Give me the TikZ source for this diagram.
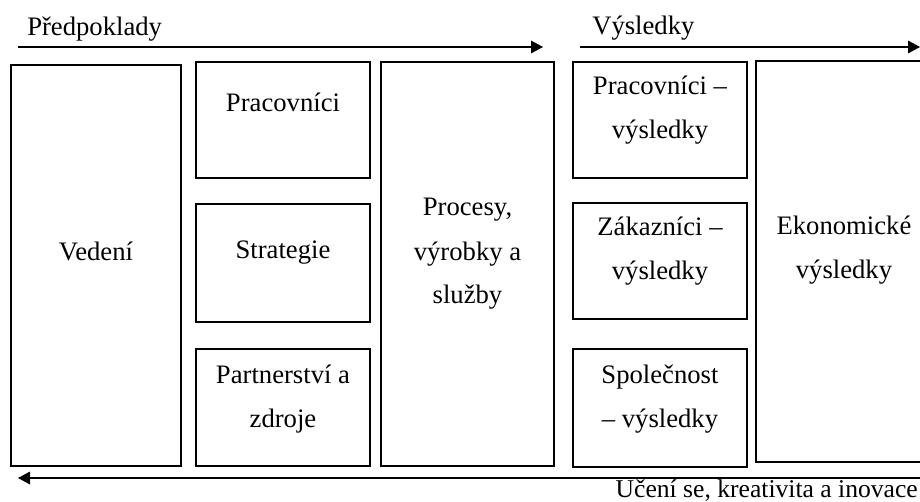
\documentclass[tikz,border=0pt]{standalone}
\usepackage{fontspec}
\setmainfont{Liberation Serif}
\usetikzlibrary{arrows.meta,fit}
\newcommand\mylines[1]{\vtop{\baselineskip=33pt\halign{\hfil##\hfil\cr#1\crcr}}}
\tikzset{
  box/.style={draw=black, line width=1.4pt, inner sep=0pt},
  txt/.style={anchor=base, inner sep=0pt, font=\fontsize{20}{33}\selectfont},
  arr/.style={line width=0.8pt, -{Triangle[length=9pt,width=9.5pt]}}
}
\begin{document}
\begin{tikzpicture}[x=0.75pt,y=-0.75pt]
\useasboundingbox (0,0) rectangle (920,502);
% boxes
\node[box, fit={(11,65) (181,466)}] (bV) {};
\node[box, fit={(196,62) (370,178)}] (bP) {};
\node[box, fit={(196,204) (370,322)}] (bS) {};
\node[box, fit={(196,349) (370,466)}] (bZ) {};
\node[box, fit={(381,62) (554,466)}] (bPr) {};
\node[box, fit={(573,62) (747,178)}] (bR1) {};
\node[box, fit={(573,203) (747,319)}] (bR2) {};
\node[box, fit={(573,349) (747,467)}] (bR3) {};
\node[box, fit={(756,61) (935,462)}] (bE) {};
% texts
\node[txt] (tV) at (96,260) {Vedení};
\node[txt] (tP) at (283,112) {Pracovníci};
\node[txt] (tS) at (283,258) {Strategie};
\node[txt] (tZ) at (283,383) {\mylines{Partnerství a\cr zdroje}};
\node[txt] (tPr) at (467.5,216) {\mylines{Procesy,\cr výrobky a\cr služby}};
\node[txt] (tR1) at (660,95) {\mylines{Pracovníci –\cr výsledky}};
\node[txt] (tR2) at (660,235) {\mylines{Zákazníci –\cr výsledky}};
\node[txt] (tR3) at (660,383) {\mylines{Společnost\cr – výsledky}};
\node[txt] (tE) at (844,234) {\mylines{Ekonomické\cr výsledky}};
% arrows
\coordinate (a1s) at (18,47);
\coordinate (a1e) at (543,47);
\coordinate (a2s) at (580,47);
\coordinate (a2e) at (920,47);
\coordinate (a3s) at (921,478);
\coordinate (a3e) at (18,478);
\draw[arr] (a1s) -- (a1e);
\draw[arr] (a2s) -- (a2e);
\draw[arr] (a3s) -- (a3e);
\node[txt, anchor=base west] (lPred) at (27,36) {Předpoklady};
\node[txt, anchor=base west] (lVys) at (592,35) {Výsledky};
\node[txt, anchor=base east, font=\fontsize{19.2}{24}\selectfont] (lUc) at (918,497) {Učení se, kreativita a inovace};
\end{tikzpicture}
\end{document}
